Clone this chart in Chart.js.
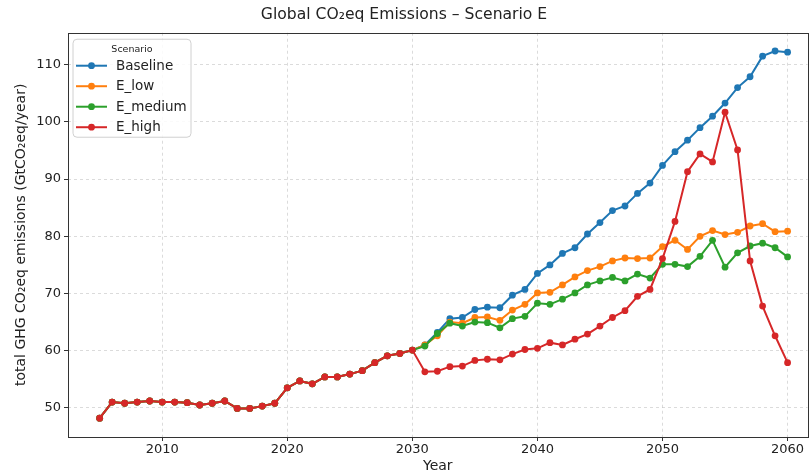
<!DOCTYPE html>
<html>
<head>
<meta charset="utf-8">
<title>Global CO2eq Emissions – Scenario E</title>
<script src="https://cdn.jsdelivr.net/npm/chart.js@4.4.0/dist/chart.umd.min.js"></script>
<style>
  html, body { margin: 0; padding: 0; background: #fff; }
  canvas { display: block; }
</style>
</head>
<body>
<canvas id="emissionsChart" width="811" height="473"></canvas>
<script>
// --- data ---
const years = [
  2005, 2006, 2007, 2008, 2009, 2010, 2011, 2012, 2013, 2014,
  2015, 2016, 2017, 2018, 2019, 2020, 2021, 2022, 2023, 2024,
  2025, 2026, 2027, 2028, 2029, 2030, 2031, 2032, 2033, 2034,
  2035, 2036, 2037, 2038, 2039, 2040, 2041, 2042, 2043, 2044,
  2045, 2046, 2047, 2048, 2049, 2050, 2051, 2052, 2053, 2054,
  2055, 2056, 2057, 2058, 2059, 2060
];

// 2005-2030, shared by every scenario
const historical = [
  48.2, 51.0, 50.8, 51.0, 51.2, 51.0, 51.0, 50.9, 50.5, 50.8,
  51.2, 49.9, 49.9, 50.3, 50.8, 53.5, 54.7, 54.2, 55.4, 55.4,
  55.9, 56.5, 57.9, 59.1, 59.5, 60.1
];

// 2031-2060
const baseline = [
  61.0, 63.2, 65.6, 65.8, 67.2, 67.6, 67.5, 69.7, 70.7, 73.5,
  75.0, 77.0, 78.0, 80.4, 82.4, 84.5, 85.3, 87.5, 89.3, 92.4,
  94.8, 96.8, 99.0, 101.0, 103.3, 106.0, 107.9, 111.5, 112.4, 112.2
];
const eLow = [
  61.0, 62.6, 65.0, 64.8, 65.8, 65.9, 65.3, 67.1, 68.1, 70.1,
  70.2, 71.5, 72.9, 74.0, 74.7, 75.7, 76.2, 76.1, 76.2, 78.2,
  79.3, 77.7, 80.0, 81.0, 80.3, 80.7, 81.8, 82.2, 80.8, 80.9
];
const eMedium = [
  60.8, 63.0, 64.8, 64.3, 65.0, 64.9, 64.0, 65.6, 66.0, 68.3,
  68.1, 69.0, 70.1, 71.5, 72.2, 72.8, 72.2, 73.4, 72.7, 75.1,
  75.1, 74.7, 76.5, 79.3, 74.6, 77.1, 78.3, 78.8, 78.0, 76.4
];
const eHigh = [
  56.3, 56.4, 57.2, 57.3, 58.3, 58.5, 58.4, 59.4, 60.2, 60.4,
  61.4, 61.0, 62.0, 62.9, 64.3, 65.8, 67.0, 69.5, 70.7, 76.1,
  82.6, 91.3, 94.4, 93.0, 101.7, 95.1, 75.7, 67.8, 62.6, 57.9
];

const scenarioNames = ["Baseline", "E_low", "E_medium", "E_high"];
const scenarioColors = ["#1f77b4", "#ff7f0e", "#2ca02c", "#d62728"];
const xTicks = [2010, 2020, 2030, 2040, 2050, 2060];
const yTicks = [50, 60, 70, 80, 90, 100, 110];

const FONT = "'DejaVu Sans', 'Liberation Sans', sans-serif";

function toPoints(values) {
  return years.map((yr, i) => ({ x: yr, y: values[i] }));
}

const series = [baseline, eLow, eMedium, eHigh];
const datasets = series.map((proj, i) => ({
  label: scenarioNames[i],
  data: toPoints(historical.concat(proj)),
  borderColor: scenarioColors[i],
  backgroundColor: scenarioColors[i],
  borderWidth: 2,
  pointRadius: 3.4,
  pointHoverRadius: 3.4,
  pointBorderWidth: 0,
  tension: 0,
  order: series.length - i // last scenario on top, like matplotlib
}));

// frame on all four sides (matplotlib spines)
const framePlugin = {
  id: "frame",
  afterDatasetsDraw(chart) {
    const { ctx, chartArea: a } = chart;
    ctx.save();
    ctx.strokeStyle = "#333";
    ctx.lineWidth = 1;
    ctx.strokeRect(Math.round(a.left) + 0.5, Math.round(a.top) + 0.5,
      Math.round(a.right - a.left), Math.round(a.bottom - a.top));
    ctx.restore();
  }
};

// legend inside the plot, upper left, with title "Scenario"
const boxLegendPlugin = {
  id: "boxLegend",
  afterDatasetsDraw(chart) {
    const { ctx, chartArea: a } = chart;
    const x = a.left + 5, y = a.top + 6.5, w = 118, h = 98;
    ctx.save();
    ctx.beginPath();
    ctx.roundRect(x, y, w, h, 4);
    ctx.fillStyle = "rgba(255,255,255,0.85)";
    ctx.fill();
    ctx.strokeStyle = "#d0d0d0";
    ctx.lineWidth = 1;
    ctx.stroke();

    ctx.fillStyle = "#222";
    ctx.font = "9.5px " + FONT;
    ctx.textAlign = "center";
    ctx.textBaseline = "middle";
    ctx.fillText("Scenario", x + w / 2, y + 10);

    ctx.font = "13.5px " + FONT;
    ctx.textAlign = "left";
    chart.data.datasets.forEach((ds, i) => {
      const ry = y + 26.5 + i * 20.5;
      ctx.strokeStyle = ds.borderColor;
      ctx.lineWidth = 2;
      ctx.beginPath();
      ctx.moveTo(x + 3, ry);
      ctx.lineTo(x + 34, ry);
      ctx.stroke();
      ctx.fillStyle = ds.borderColor;
      ctx.beginPath();
      ctx.arc(x + 18.5, ry, 3.4, 0, Math.PI * 2);
      ctx.fill();
      ctx.fillStyle = "#222";
      ctx.fillText(ds.label, x + 43, ry + 0.5);
    });
    ctx.restore();
  }
};

const gridCommon = {
  color: "rgba(176,176,176,0.45)",
  lineWidth: 1,
  drawTicks: true,
  tickLength: 4,
  tickColor: "#333",
  tickBorderDash: [],
  tickWidth: 1
};
// v4: dashes of the grid lines live under "border"
const borderCommon = { display: false, dash: [3, 3] };

new Chart(document.getElementById("emissionsChart"), {
  type: "line",
  data: { datasets },
  options: {
    responsive: false,
    animation: false,
    layout: { padding: { left: 0, right: 3, top: 0, bottom: 0 } },
    plugins: {
      legend: { display: false },
      tooltip: { enabled: false },
      title: {
        display: true,
        text: "Global CO₂eq Emissions – Scenario E",
        color: "#222",
        font: { family: FONT, size: 15.6, weight: "normal" },
        padding: { top: 6, bottom: 8 }
      }
    },
    scales: {
      x: {
        type: "linear",
        min: 2002.47,
        max: 2061.6,
        grid: gridCommon,
        border: borderCommon,
        afterBuildTicks(scale) {
          scale.ticks = xTicks.map((v) => ({ value: v }));
        },
        afterFit(scale) {
          scale.height = 36;
        },
        ticks: {
          color: "#222",
          padding: 1,
          maxRotation: 0,
          font: { family: FONT, size: 13 },
          callback: (v) => String(v)
        },
        title: {
          display: true,
          text: "Year",
          color: "#222",
          font: { family: FONT, size: 14, lineHeight: 1 },
          padding: { top: 0, bottom: 0 }
        }
      },
      y: {
        type: "linear",
        min: 44.9,
        max: 115.6,
        grid: gridCommon,
        border: borderCommon,
        afterBuildTicks(scale) {
          scale.ticks = yTicks.map((v) => ({ value: v }));
        },
        afterFit(scale) {
          scale.width = 68;
        },
        ticks: {
          color: "#222",
          padding: 3,
          font: { family: FONT, size: 13 },
          callback: (v) => String(v)
        },
        title: {
          display: true,
          text: "total GHG CO₂eq emissions (GtCO₂eq/year)",
          color: "#222",
          font: { family: FONT, size: 14 },
          padding: { top: 13, bottom: 0 }
        }
      }
    }
  },
  plugins: [framePlugin, boxLegendPlugin]
});
</script>
</body>
</html>
